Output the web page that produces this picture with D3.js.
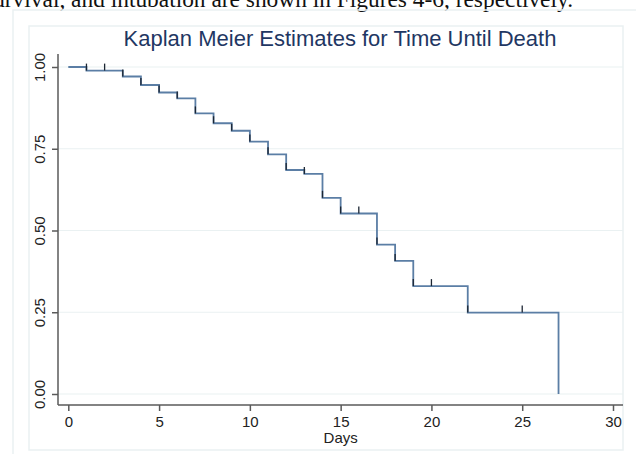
<!DOCTYPE html>
<html>
<head>
<meta charset="utf-8">
<script src="https://cdn.jsdelivr.net/npm/d3@7"></script>
<style>
  body { margin: 0; background: #fff; }
  svg { display: block; }
</style>
</head>
<body>
<div id="chart"></div>
<script>
// data
const stepDays = [0, 1, 3, 4, 5, 6, 7, 8, 9, 10, 11, 12, 13, 14, 15, 17, 18, 19, 22, 27];
const survival = [1.000, 0.989, 0.971, 0.945, 0.922, 0.904, 0.858, 0.828, 0.805, 0.772,
                  0.733, 0.685, 0.673, 0.600, 0.552, 0.457, 0.407, 0.330, 0.249, 0.000];
const censorDays = [1, 2, 3, 4, 5, 6, 7, 8, 9, 10, 11, 12, 13, 14, 15, 16, 17, 18, 19, 20, 22, 25];
const xTicks = [0, 5, 10, 15, 20, 25, 30];
const yTicks = [0, 0.25, 0.5, 0.75, 1];

const W = 636, H = 454;
const svg = d3.select("#chart").append("svg")
  .attr("width", W)
  .attr("height", H);

// page text above the figure (cut off at the top, as in the source)
svg.append("text")
  .attr("x", 573)
  .attr("y", 7)
  .attr("text-anchor", "end")
  .style("font-family", "'Liberation Serif', 'Times New Roman', serif")
  .style("font-size", "23.4px")
  .style("fill", "#111")
  .text("survival, and intubation are shown in Figures 4-6, respectively.");

// outer and inner graph frames
svg.append("path")
  .attr("d", `M13,${H + 2} V10 H${W + 2}`)
  .attr("fill", "none")
  .attr("stroke", "#eaf1f2")
  .attr("stroke-width", 1.5);

svg.append("rect")
  .attr("x", 29).attr("y", 26)
  .attr("width", 623 - 29).attr("height", 450 - 26)
  .attr("fill", "none")
  .attr("stroke", "#eaf1f2")
  .attr("stroke-width", 1.5);

const plot = { left: 58, right: 623, top: 54, bottom: 405 };

const x = d3.scaleLinear().domain([0, 30]).range([68.3, 613]);
const y = d3.scaleLinear().domain([0, 1]).range([394, 67]);

// gridlines
svg.append("g")
  .selectAll("line")
  .data(yTicks)
  .enter()
  .append("line")
  .attr("x1", plot.left)
  .attr("x2", plot.right)
  .attr("y1", d => y(d))
  .attr("y2", d => y(d))
  .attr("stroke", "#eaf1f2")
  .attr("stroke-width", 1.2);

// title
svg.append("text")
  .attr("x", 340)
  .attr("y", 46)
  .attr("text-anchor", "middle")
  .style("font-family", "'Liberation Sans', Arial, sans-serif")
  .style("font-size", "22px")
  .style("fill", "#1f3763")
  .text("Kaplan Meier Estimates for Time Until Death");

// axes
const xAxis = svg.append("g")
  .attr("transform", `translate(0, ${plot.bottom})`)
  .call(d3.axisBottom(x).tickValues(xTicks).tickSize(6).tickPadding(5).tickFormat(d3.format("d")));
xAxis.select(".domain").attr("d", `M${plot.left},0H${plot.right}`);

const yAxis = svg.append("g")
  .attr("transform", `translate(${plot.left}, 0)`)
  .call(d3.axisLeft(y).tickValues(yTicks).tickSize(6).tickFormat(d3.format(".2f")));
yAxis.select(".domain").attr("d", `M0,${plot.top}V${plot.bottom}`);

yAxis.selectAll(".tick text")
  .attr("x", null).attr("dy", null)
  .attr("transform", "translate(-13, 0) rotate(-90)")
  .attr("text-anchor", "middle");

[xAxis, yAxis].forEach(a => {
  a.selectAll(".domain, .tick line")
    .attr("stroke", "#5a5a5a")
    .attr("stroke-width", 1.5);
  a.selectAll(".tick text")
    .style("font-family", "'Liberation Sans', Arial, sans-serif")
    .style("font-size", "15px")
    .style("fill", "#222");
});

svg.append("text")
  .attr("x", x(15))
  .attr("y", 443)
  .attr("text-anchor", "middle")
  .style("font-family", "'Liberation Sans', Arial, sans-serif")
  .style("font-size", "15px")
  .style("fill", "#222")
  .text("Days");

// survival step curve
const km = stepDays.map((d, i) => [d, survival[i]]);
const stepLine = d3.line()
  .x(d => x(d[0]))
  .y(d => y(d[1]))
  .curve(d3.curveStepAfter);

svg.append("path")
  .datum(km)
  .attr("d", stepLine)
  .attr("fill", "none")
  .attr("stroke", "#5b7ea5")
  .attr("stroke-width", 1.8);

// censor marks
const survAt = t => {
  let s = 1;
  stepDays.forEach((d, i) => { if (d <= t) s = survival[i]; });
  return s;
};

svg.append("g")
  .selectAll("line")
  .data(censorDays)
  .enter()
  .append("line")
  .attr("x1", d => x(d))
  .attr("x2", d => x(d))
  .attr("y1", d => y(survAt(d)))
  .attr("y2", d => y(survAt(d)) - 7)
  .attr("stroke", "#1c2633")
  .attr("stroke-width", 1.3);
</script>
</body>
</html>
